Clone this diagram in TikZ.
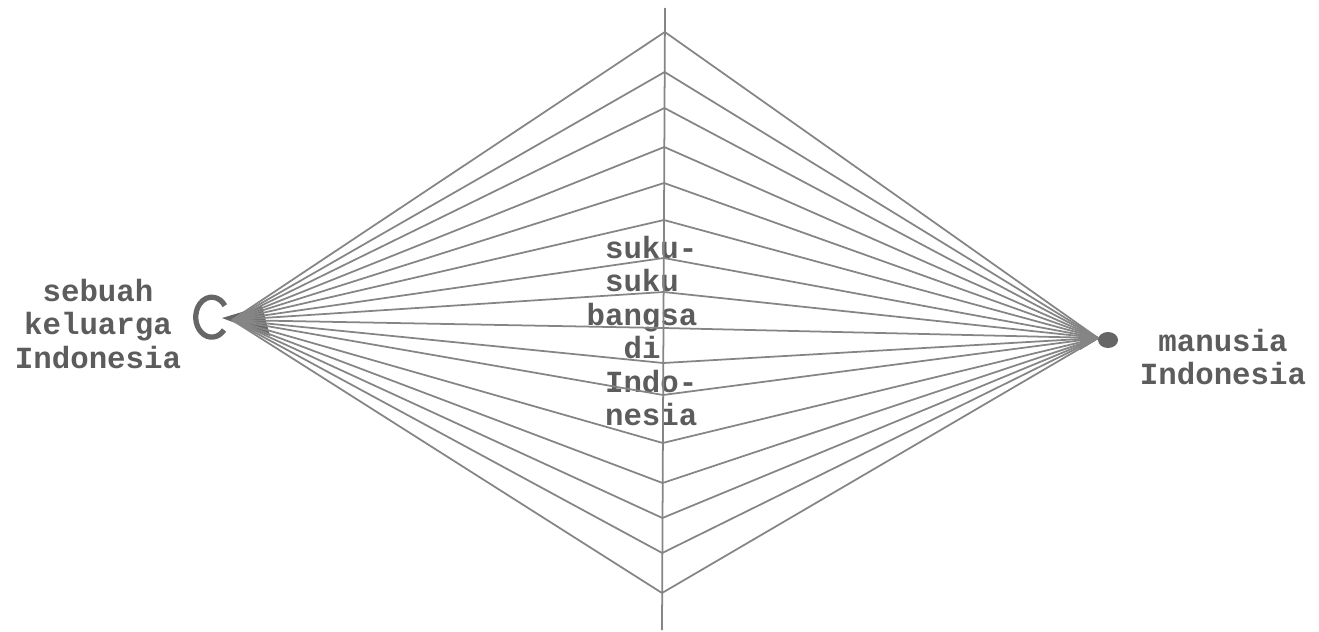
\documentclass[tikz,border=0pt]{standalone}
\usepackage{fontspec}
\setmonofont{Liberation Mono}
\usetikzlibrary{positioning}
\definecolor{inkGray}{HTML}{5C5C5C}
\definecolor{wireGray}{HTML}{858585}
\definecolor{hubGray}{HTML}{666666}

\begin{document}
\begin{tikzpicture}[
    x=0.02cm, y=-0.02cm,
    typed/.style={font=\fontsize{17.5}{19}\selectfont\ttfamily\bfseries, text=inkGray, inner sep=0pt},
    wire/.style={draw=wireGray, line width=1pt, line join=miter},
    axisline/.style={draw=wireGray, line width=1pt}
  ]
    \useasboundingbox (0,0) rectangle (1319,632);
    % Nodes
    \coordinate (keluarga) at (232,320);
    \coordinate (manusia) at (1098,338);
    \coordinate (axisTop) at (665,8);
    \coordinate (axisBot) at (662,630);

    \node[typed, align=center] (kLabel) at (98,324) {sebuah\\keluarga\\Indonesia};
    \node[typed, align=center] (mLabel) at (1223,357) {manusia\\Indonesia};
    \node[typed, align=left] (sLabel) at (642,331) {\hphantom{x}suku-\\\hphantom{x}suku\\bangsa\\\hphantom{xx}di\\\hphantom{x}Indo-\\\hphantom{x}nesia};

    % Hubs
    \draw[hubGray, line width=3pt] (224,330) arc[start angle=40, end angle=325, x radius=16, y radius=20];
    \fill[hubGray] (222,318) -- (262,306) -- (270,336) -- cycle;
    \fill[hubGray] (1108,340) ellipse [x radius=10, y radius=8];
    \fill[hubGray] (1100,338) -- (1080,328) -- (1080,350) -- cycle;

    % Edges
    \draw[axisline] (axisTop) -- (axisBot);
    \foreach \y [count=\i] in {32,72,108,147,183,220,258,292,328,363,395,443,483,518,553,593} {
      \coordinate (s\i) at ({665-0.005*\y},\y);
      \draw[wire] (keluarga) -- (s\i) -- (manusia);
    }
  \end{tikzpicture}
\end{document}
